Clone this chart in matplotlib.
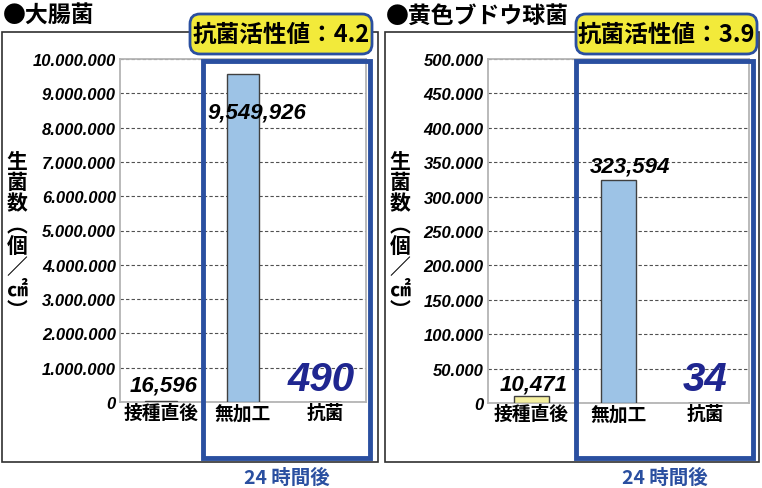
import matplotlib
matplotlib.use('Agg')
import matplotlib.pyplot as plt
from matplotlib.patches import Rectangle, FancyBboxPatch
import numpy as np

# data
categories = ['接種直後', '無加工', '抗菌']
ecoli_counts = [16596, 9549926, 490]
staph_counts = [10471, 323594, 34]
ecoli_labels = ['16,596', '9,549,926', '490']
staph_labels = ['10,471', '323,594', '34']
ecoli_ticks = np.arange(0, 10000001, 1000000)
staph_ticks = np.arange(0, 500001, 50000)
ecoli_activity = '4.2'
staph_activity = '3.9'

JP = 'Noto Sans CJK JP'
NUM = 'Liberation Sans'

W, H = 762, 489
BLUE = '#2a4fa0'
NAVY = '#1f2690'
bar_colors = ['#f5f0a0', '#9dc3e6', '#9dc3e6']


def inch(x, y):
    # pixel (from top-left) -> inches for dpi_scale_trans
    return x / 100, (H - y) / 100


def dot_fmt(v):
    return f'{int(v):,}'.replace(',', '.')


def draw_panel(fig, title, counts, labels, ticks, activity, frame, axbox, badge_x, label_offsets):
    fx0, fy0, fx1, fy1 = frame
    t = fig.dpi_scale_trans

    # outer frame
    x, y = inch(fx0, fy1)
    fig.patches.append(Rectangle((x, y), (fx1 - fx0) / 100, (fy1 - fy0) / 100,
                                 transform=t, fill=False, edgecolor='#303030', linewidth=1.2))
    fig.text(*inch(fx0 + 1, 16), title, transform=t, fontsize=16.5, weight='bold',
             family=JP, va='center', ha='left')

    # axes
    ax0, ay0, ax1, ay1 = axbox
    ax = fig.add_axes([ax0 / W, 1 - ay1 / H, (ax1 - ax0) / W, (ay1 - ay0) / H])
    x = np.arange(len(counts))
    ax.bar(x, counts, width=0.4, color=bar_colors, edgecolor='#404040', linewidth=1.0, zorder=3)
    ax.set_xlim(-0.5, 2.5)
    ax.set_ylim(ticks[0], ticks[-1])
    ax.set_yticks(ticks)
    ax.set_yticklabels([dot_fmt(v) for v in ticks], family=NUM, weight='bold',
                       style='italic', fontsize=12)
    ax.set_xticks(x)
    ax.set_xticklabels(categories, family=JP, weight='bold', fontsize=13.5)
    ax.tick_params(length=0, pad=3)
    ax.tick_params(axis='x', pad=1)
    ax.yaxis.grid(True, linestyle=(0, (3, 2)), color='#505050', linewidth=0.8)
    ax.set_axisbelow(True)
    for s in ax.spines.values():
        s.set_color('#b4b4b4')
        s.set_linewidth(1.3)

    for i, (v, lab) in enumerate(zip(counts, labels)):
        dx, dy = label_offsets[i]
        if i == 2:
            ax.annotate(lab, (i, v), xytext=(dx, dy), textcoords='offset pixels',
                        ha='center', va='center', family=NUM, weight='bold',
                        style='italic', fontsize=29, color=NAVY, zorder=5)
        else:
            ax.annotate(lab, (i, v), xytext=(dx, dy), textcoords='offset pixels',
                        ha='center', va='center', family=NUM, weight='bold',
                        style='italic', fontsize=16, color='black', zorder=5)

    # y label, vertical writing
    fig.text(*inch(fx0 + 15, 236), '\n'.join('生菌数︵個／㎠︶'), transform=t, family=JP,
             weight='bold', fontsize=15, ha='center', va='center', linespacing=1.02)

    # blue box around 24h group
    bx0 = ax0 + (ax1 - ax0) / 3 + 1
    bx1 = ax1 + 4
    x, y = inch(bx0, 459)
    fig.patches.append(Rectangle((x, y), (bx1 - bx0) / 100, (459 - 62) / 100,
                                 transform=t, fill=False, edgecolor=BLUE, linewidth=3.5,
                                 zorder=10))
    fig.text(*inch((bx0 + bx1) / 2, 478), '24 時間後', transform=t, family=JP,
             weight='bold', fontsize=14, color=BLUE, ha='center', va='center')

    # yellow activity badge
    yx0, yx1 = badge_x
    x, y = inch(yx0, 55)
    fig.patches.append(FancyBboxPatch((x, y), (yx1 - yx0) / 100, 0.40,
                                      boxstyle='round,pad=0,rounding_size=0.1',
                                      transform=t, facecolor='#f2ea3a', edgecolor=BLUE,
                                      linewidth=2, zorder=11))
    fig.text(*inch((yx0 + yx1) / 2, 35), '抗菌活性値：' + activity, transform=t,
             family=JP, weight='bold', fontsize=17, ha='center', va='center', zorder=12)
    return ax


fig = plt.figure(figsize=(W / 100, H / 100), dpi=100)

draw_panel(fig, '●大腸菌', ecoli_counts, ecoli_labels, ecoli_ticks, ecoli_activity,
           (2, 33, 378, 463), (120, 60, 366, 403), (190, 372),
           [(3, 16), (14, -38), (-4, 23)])
draw_panel(fig, '●黄色ブドウ球菌', staph_counts, staph_labels, staph_ticks, staph_activity,
           (385, 33, 759, 463), (488, 60, 749, 404), (576, 757),
           [(2, 12), (12, 14), (0, 24)])

fig.savefig('out.png', dpi=100)
